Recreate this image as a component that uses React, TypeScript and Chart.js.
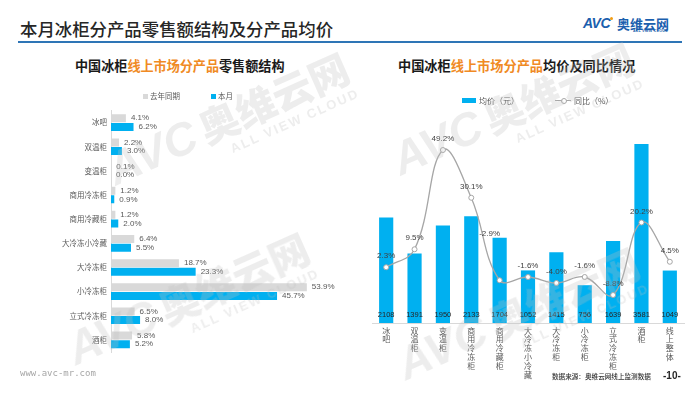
import React, { useEffect, useRef } from "react";
import { Chart, registerables } from "chart.js";

Chart.register(...registerables);

// ---------- data ----------
const shareCategories = ["冰吧", "双温柜", "变温柜", "商用冷冻柜", "商用冷藏柜", "大冷冻小冷藏", "大冷冻柜", "小冷冻柜", "立式冷冻柜", "酒柜"];
const shareLastYear = [4.1, 2.2, 0.1, 1.2, 1.2, 6.4, 18.7, 53.9, 6.5, 5.8];
const shareThisMonth = [6.2, 3.0, 0.0, 0.9, 2.0, 5.5, 23.3, 45.7, 8.0, 5.2];

const priceCategories = ["冰吧", "双温柜", "变温柜", "商用冷冻柜", "商用冷藏柜", "大冷冻小冷藏", "大冷冻柜", "小冷冻柜", "立式冷冻柜", "酒柜", "线上整体"];
const avgPrice = [2108, 1391, 1950, 2133, 1704, 1052, 1415, 756, 1639, 3581, 1049];
const yoyPct = [2.3, 9.5, 49.2, 30.1, -2.9, -1.6, -4.0, -1.6, -8.8, 20.2, 4.5];

const FONT = '"Liberation Sans", "Noto Sans CJK SC", sans-serif';
const CJK = '"Noto Sans CJK SC", "Liberation Sans", sans-serif';
const BLUE = "#00b0f0";
const GRAY = "#d9d9d9";
const ORANGE = "#f08a24";

function Txt(props: { x: number; y: number; size: number; color?: string; weight?: number | string; family?: string; children: any; style?: any }) {
  const { x, y, size, color = "#333", weight = 400, family = CJK, children, style } = props;
  return (
    <div
      style={{
        position: "absolute",
        left: x,
        top: y - size / 2,
        fontSize: size,
        lineHeight: `${size}px`,
        height: size,
        color,
        fontWeight: weight as any,
        fontFamily: family,
        whiteSpace: "nowrap",
        ...style,
      }}
    >
      {children}
    </div>
  );
}

function ShareChart() {
  const ref = useRef<HTMLCanvasElement>(null);
  useEffect(() => {
    const labelPlugin = {
      id: "shareLabels",
      afterDatasetsDraw(chart: any) {
        const { ctx } = chart;
        ctx.save();
        ctx.font = `8px ${FONT}`;
        ctx.fillStyle = "#595959";
        ctx.textAlign = "left";
        ctx.textBaseline = "middle";
        chart.data.datasets.forEach((ds: any, di: number) => {
          chart.getDatasetMeta(di).data.forEach((el: any, i: number) => {
            ctx.fillText(`${Number(ds.data[i]).toFixed(1)}%`, el.x + 5, el.y);
          });
        });
        ctx.restore();
      },
    };
    const chart = new Chart(ref.current!, {
      type: "bar",
      data: {
        labels: shareCategories,
        datasets: [
          { label: "去年同期", data: shareLastYear, backgroundColor: GRAY, categoryPercentage: 0.72, barPercentage: 0.92 },
          { label: "本月", data: shareThisMonth, backgroundColor: BLUE, categoryPercentage: 0.72, barPercentage: 0.92 },
        ],
      },
      options: {
        indexAxis: "y",
        animation: false,
        responsive: false,
        layout: { padding: { top: 30.5, right: 21, bottom: 18, left: 0 } },
        plugins: { legend: { display: false }, tooltip: { enabled: false } },
        scales: {
          x: { display: false, min: 0, max: 60 },
          y: {
            grid: { display: false, drawTicks: false },
            border: { display: true, color: GRAY },
            ticks: { color: "#595959", font: { size: 7.5, family: CJK }, padding: 4 },
            afterFit: (s: any) => {
              s.width = 111;
            },
          },
        },
      } as any,
      plugins: [labelPlugin],
    });
    return () => chart.destroy();
  }, []);
  return <canvas ref={ref} width={350} height={290} style={{ position: "absolute", left: 0, top: 80, width: 350, height: 290 }} />;
}

function PriceChart() {
  const ref = useRef<HTMLCanvasElement>(null);
  useEffect(() => {
    const nudge: Record<number, { dx: number; dy: number }> = { 4: { dx: -10, dy: -35 } };
    const labelPlugin = {
      id: "priceLabels",
      afterDatasetsDraw(chart: any) {
        const { ctx, chartArea } = chart;
        ctx.save();
        ctx.textAlign = "center";
        ctx.textBaseline = "middle";
        // bar values at the bottom of each bar
        ctx.font = `7.5px ${FONT}`;
        ctx.fillStyle = "#262626";
        chart.getDatasetMeta(1).data.forEach((el: any, i: number) => {
          ctx.fillText(String(avgPrice[i]), el.x, chartArea.bottom - 8);
        });
        // yoy labels above points
        ctx.font = `8px ${FONT}`;
        ctx.fillStyle = "#404040";
        chart.getDatasetMeta(0).data.forEach((el: any, i: number) => {
          const n = nudge[i] || { dx: 0, dy: 0 };
          ctx.fillText(`${yoyPct[i].toFixed(1)}%`, el.x + n.dx, el.y - 11 + n.dy);
        });
        ctx.restore();
      },
    };
    const chart = new Chart(ref.current!, {
      type: "bar",
      data: {
        labels: priceCategories.map((c) => Array.from(c)),
        datasets: [
          {
            type: "line",
            label: "同比（%）",
            data: yoyPct,
            yAxisID: "y2",
            borderColor: "#a6a6a6",
            borderWidth: 1.3,
            tension: 0.4,
            pointRadius: 2.5,
            pointBackgroundColor: "#ffffff",
            pointBorderColor: "#a6a6a6",
            pointBorderWidth: 1,
            order: 0,
          },
          {
            type: "bar",
            label: "均价（元）",
            data: avgPrice,
            yAxisID: "y",
            backgroundColor: BLUE,
            categoryPercentage: 1,
            barPercentage: 0.5,
            order: 1,
          },
        ],
      },
      options: {
        animation: false,
        responsive: false,
        layout: { padding: { top: 43, right: 16, bottom: 0, left: 22 } },
        plugins: { legend: { display: false }, tooltip: { enabled: false } },
        scales: {
          x: {
            offset: true,
            grid: { display: false, drawTicks: false },
            border: { display: true, color: GRAY },
            ticks: {
              color: "#595959",
              font: { size: 8, family: CJK, lineHeight: 1.12 },
              padding: 3,
              autoSkip: false,
              maxRotation: 0,
              minRotation: 0,
            },
            afterFit: (s: any) => {
              s.height = 71;
            },
          },
          y: { display: false, min: 0, max: 4000 },
          y2: { display: false, min: -20, max: 60, position: "right" },
        },
      } as any,
      plugins: [labelPlugin],
    });
    return () => chart.destroy();
  }, []);
  return <canvas ref={ref} width={350} height={314} style={{ position: "absolute", left: 350, top: 80, width: 350, height: 314 }} />;
}

function Watermark(props: { x: number; y: number }) {
  return (
    <div
      style={{
        position: "absolute",
        left: props.x,
        top: props.y,
        transform: "rotate(-24deg)",
        transformOrigin: "left top",
        color: "rgba(190,190,190,0.28)",
        pointerEvents: "none",
        whiteSpace: "nowrap",
        fontFamily: CJK,
        fontWeight: 900,
        lineHeight: 1,
      }}
    >
      <span style={{ fontSize: 46, fontStyle: "italic", fontFamily: FONT }}>AVC</span>
      <span style={{ fontSize: 40, marginLeft: 6 }}>奥维云网</span>
      <div style={{ fontSize: 13, marginLeft: 120, letterSpacing: 2, fontFamily: FONT }}>ALL VIEW CLOUD</div>
    </div>
  );
}

export default function App() {
  return (
    <div style={{ position: "relative", width: 700, height: 394, margin: -8, background: "#fff", overflow: "hidden" }}>
      {/* header */}
      <Txt x={20} y={29} size={17.4} color="#262626" weight={500}>
        本月冰柜分产品零售额结构及分产品均价
      </Txt>
      <div style={{ position: "absolute", left: 18, top: 41, width: 664, height: 2, background: "#2e75b6" }} />
      {/* logo */}
      <Txt x={583} y={23} size={14} color="#1b5fae" weight={900} family={FONT} style={{ fontStyle: "italic", letterSpacing: -0.5 }}>
        AVC
      </Txt>
      <div style={{ position: "absolute", left: 610, top: 17, width: 3, height: 3, borderRadius: 2, background: "#f39c12" }} />
      <Txt x={617} y={23} size={13} color="#1b5fae" weight={700}>
        奥维云网
      </Txt>
      <Txt x={633} y={32} size={3.6} color="#1b5fae" weight={700} family={FONT} style={{ letterSpacing: 0.3 }}>
        ALL VIEW CLOUD
      </Txt>

      {/* subtitles */}
      <Txt x={75} y={66} size={13.1} color="#1a1a1a" weight={700}>
        中国冰柜<span style={{ color: ORANGE }}>线上市场分产品</span>零售额结构
      </Txt>
      <Txt x={398} y={66} size={13.2} color="#1a1a1a" weight={700}>
        中国冰柜<span style={{ color: ORANGE }}>线上市场分产品</span>均价及同比情况
      </Txt>

      <ShareChart />
      <PriceChart />

      {/* left legend */}
      <div style={{ position: "absolute", left: 143, top: 93.5, width: 5, height: 5, background: GRAY }} />
      <Txt x={150} y={96} size={7.5} color="#595959">去年同期</Txt>
      <div style={{ position: "absolute", left: 211, top: 93.5, width: 5, height: 5, background: BLUE }} />
      <Txt x={218} y={96} size={7.5} color="#595959">本月</Txt>

      {/* right legend */}
      <div style={{ position: "absolute", left: 462, top: 98, width: 14, height: 5, background: BLUE }} />
      <Txt x={479} y={100.5} size={8} color="#595959">均价（元）</Txt>
      <div style={{ position: "absolute", left: 555, top: 100, width: 16, height: 1, background: "#a6a6a6" }} />
      <div style={{ position: "absolute", left: 560.5, top: 97.5, width: 4, height: 4, borderRadius: 3, border: "1px solid #a6a6a6", background: "#fff" }} />
      <Txt x={574} y={100.5} size={8} color="#595959">同比（%）</Txt>

      {/* footer */}
      <Txt x={20} y={373} size={9} color="#a6a6a6" family='"DejaVu Sans Mono", monospace'>
        www.avc-mr.com
      </Txt>
      <Txt x={552} y={376} size={6.6} color="#333" weight={500}>
        数据来源：奥维云网线上监测数据
      </Txt>
      <Txt x={663} y={376} size={10} color="#262626" weight={700} family={FONT}>
        -10-
      </Txt>

      {/* watermarks */}
      <Watermark x={100} y={150} />
      <Watermark x={60} y={330} />
      <Watermark x={385} y={140} />
      <Watermark x={390} y={345} />
    </div>
  );
}
